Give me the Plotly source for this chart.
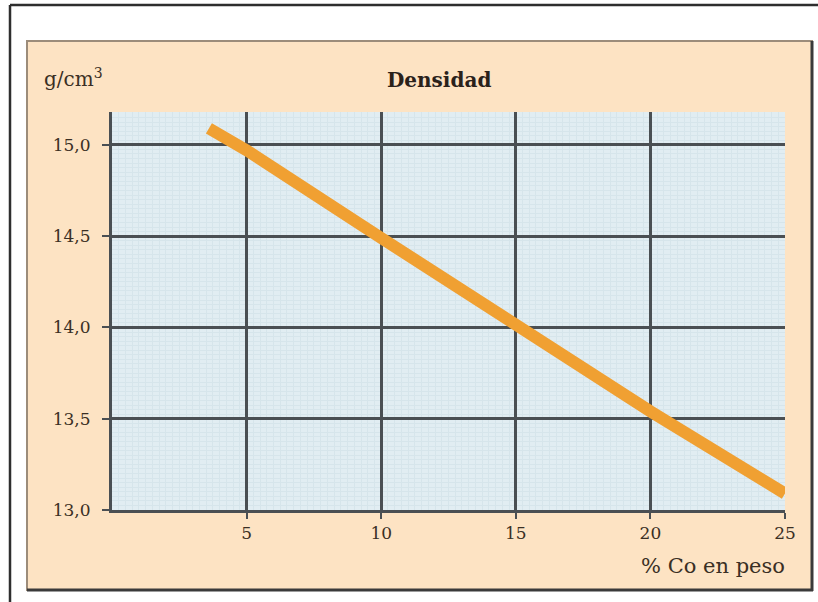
import plotly.graph_objects as go

# Data
co_pct = [3.6, 5, 10, 15, 20, 25]
densidad = [15.09, 14.97, 14.49, 14.01, 13.54, 13.09]
x_ticks = [5, 10, 15, 20, 25]
y_ticks = [13.0, 13.5, 14.0, 14.5, 15.0]

W, H = 818, 602
L, R, T, B = 112, 785, 112, 510


def px(x):
    return (x - L) / (R - L)


def py(y):
    return (B - y) / (B - T)


TXT = "#3a2f24"
FONT = "DejaVu Serif"
GRID = "#4a4f53"

fig = go.Figure()
fig.add_trace(go.Scatter(
    x=co_pct, y=densidad, mode="lines",
    line=dict(color="#f0a032", width=12),
    hoverinfo="skip", showlegend=False,
))

shapes = [
    # outer frame
    dict(type="line", xref="paper", yref="paper", x0=px(10), x1=px(818), y0=py(5), y1=py(5),
         line=dict(color="#2e2e2e", width=2.5), layer="below"),
    dict(type="line", xref="paper", yref="paper", x0=px(10), x1=px(10), y0=py(5), y1=py(602),
         line=dict(color="#2e2e2e", width=2.5), layer="below"),
    # peach panel
    dict(type="rect", xref="paper", yref="paper", x0=px(27), x1=px(812), y0=py(41), y1=py(590),
         fillcolor="#fde3c3", line=dict(color="#9c8c7a", width=2), layer="below"),
    dict(type="line", xref="paper", yref="paper", x0=px(812), x1=px(812), y0=py(41), y1=py(591),
         line=dict(color="#3a3a3a", width=3), layer="below"),
    dict(type="line", xref="paper", yref="paper", x0=px(27), x1=px(813), y0=py(590), y1=py(590),
         line=dict(color="#3a3a3a", width=3), layer="below"),
    # plot area background
    dict(type="rect", xref="paper", yref="paper", x0=0, x1=1, y0=0, y1=1,
         fillcolor="#e1edf2", line=dict(width=0), layer="below"),
]

annotations = [
    dict(text="<b>Densidad</b>", xref="paper", yref="paper", x=px(439), y=py(80),
         xanchor="center", yanchor="middle", showarrow=False,
         font=dict(family=FONT, size=20, color="#2a211a")),
    dict(text="g/cm<sup>3</sup>", xref="paper", yref="paper", x=px(42), y=py(78),
         xanchor="left", yanchor="middle", showarrow=False,
         font=dict(family=FONT, size=20, color=TXT)),
    dict(text="% Co en peso", xref="paper", yref="paper", x=px(787), y=py(566),
         xanchor="right", yanchor="middle", showarrow=False,
         font=dict(family=FONT, size=21, color=TXT)),
]

fig.update_layout(
    width=W, height=H,
    margin=dict(l=L, r=W - R, t=T, b=H - B),
    paper_bgcolor="white",
    plot_bgcolor="rgba(0,0,0,0)",
    separators=",.",
    shapes=shapes,
    annotations=annotations,
    showlegend=False,
    hovermode=False,
    font=dict(family=FONT, size=18, color=TXT),
)

fig.update_xaxes(
    range=[0, 25], tickvals=x_ticks, ticktext=[str(v) for v in x_ticks],
    showgrid=True, gridcolor=GRID, gridwidth=2.5,
    showline=True, linecolor=GRID, linewidth=3,
    ticks="outside", ticklen=6, tickcolor=GRID, tickwidth=2,
    zeroline=False, ticklabelstandoff=0,
    minor=dict(dtick=0.25, showgrid=True, gridcolor="#d6e5eb", gridwidth=1),
    tickfont=dict(family=FONT, size=17, color=TXT),
)
fig.update_yaxes(
    range=[13.0, 15.18], tickvals=y_ticks, tickformat=".1f",
    showgrid=True, gridcolor=GRID, gridwidth=2.5,
    showline=True, linecolor=GRID, linewidth=3,
    ticks="outside", ticklen=7, tickcolor=GRID, tickwidth=2,
    zeroline=False, ticklabelstandoff=8,
    minor=dict(dtick=0.025, showgrid=True, gridcolor="#d6e5eb", gridwidth=1),
    tickfont=dict(family=FONT, size=17, color=TXT),
)

fig.write_html("out.html", config={"displayModeBar": False},
               post_script="document.body.style.margin='0px';")
